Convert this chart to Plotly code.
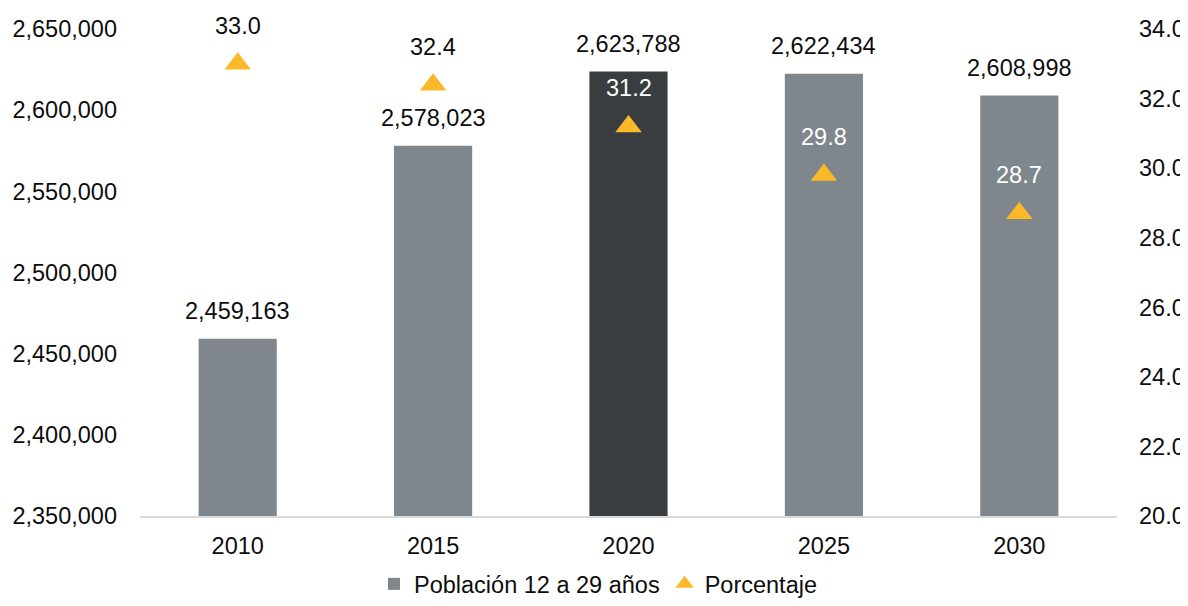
import plotly.graph_objects as go

years = ["2010", "2015", "2020", "2025", "2030"]
poblacion = [2459163, 2578023, 2623788, 2622434, 2608998]
porcentaje = [33.0, 32.4, 31.2, 29.8, 28.7]

bar_colors = ["#7f878c", "#7f878c", "#3a3d40", "#7f878c", "#7f878c"]
pct_label_colors = ["#0d0d0d", "#0d0d0d", "#ffffff", "#ffffff", "#ffffff"]

FONT = "Liberation Sans, Arial, sans-serif"
FS = 23.5

fig = go.Figure()
fig.add_trace(
    go.Bar(
        x=years,
        y=poblacion,
        marker=dict(color=bar_colors, line=dict(width=0)),
        width=0.4,
        name="Población 12 a 29 años",
        yaxis="y",
    )
)
fig.add_trace(
    go.Scatter(
        x=years,
        y=porcentaje,
        mode="markers",
        marker=dict(symbol="triangle-up", size=23, color="#fbb829"),
        name="Porcentaje",
        yaxis="y2",
    )
)

# labels as annotations (category index on x so they don't widen the range)
annotations = []
for i, v in enumerate(poblacion):
    annotations.append(
        dict(
            x=i, y=v, xref="x", yref="y", text=f"{v:,}", showarrow=False,
            yanchor="middle", yshift=28, font=dict(size=FS, color="#0d0d0d"),
        )
    )
for i, (p, c) in enumerate(zip(porcentaje, pct_label_colors)):
    annotations.append(
        dict(
            x=i, y=p, xref="x", yref="y2", text=f"{p:.1f}", showarrow=False,
            yanchor="middle", yshift=38, font=dict(size=FS, color=c),
        )
    )

# page body has an 8px margin, so the figure is offset by 8px
fig.update_layout(
    width=1180,
    height=590,
    margin=dict(l=132, r=71, t=21, b=82, autoexpand=False),
    paper_bgcolor="white",
    plot_bgcolor="white",
    font=dict(family=FONT, size=FS, color="#0d0d0d"),
    annotations=annotations,
    xaxis=dict(
        type="category", range=[-0.5, 4.5], automargin=False,
        showline=True, linecolor="#d9d9d9", linewidth=2,
        showgrid=False, ticks="", ticklabelstandoff=8,
    ),
    yaxis=dict(
        range=[2350000, 2650000], dtick=50000, tickformat=",d", automargin=False,
        showgrid=False, zeroline=False, ticklabelstandoff=22,
    ),
    yaxis2=dict(
        range=[20, 34], dtick=2, tickformat=".1f", overlaying="y", side="right",
        automargin=False, showgrid=False, zeroline=False, ticklabelstandoff=21,
    ),
    legend=dict(
        orientation="h", xref="container", yref="paper",
        x=0.5, xanchor="center", y=-0.185, yanchor="bottom",
        font=dict(size=FS), itemwidth=30, tracegroupgap=0,
    ),
)

fig.write_html("out.html")
